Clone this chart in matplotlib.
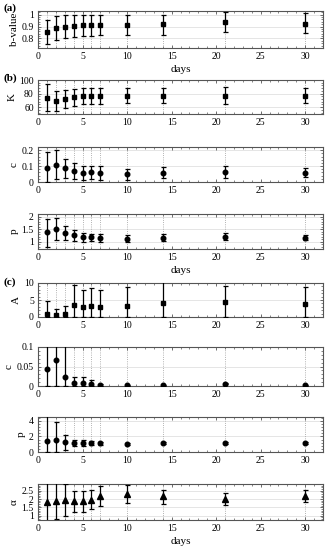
import matplotlib
matplotlib.use("Agg")
import matplotlib.pyplot as plt
import numpy as np
from matplotlib.ticker import MultipleLocator, AutoMinorLocator

plt.rcParams['font.family'] = ['Liberation Serif', 'DejaVu Serif']
plt.rcParams['font.size'] = 7

days = [1, 2, 3, 4, 5, 6, 7, 10, 14, 21, 30]

# (a) b-value
b_val = [0.853, 0.888, 0.900, 0.905, 0.910, 0.913, 0.913, 0.910, 0.917, 0.935, 0.925]
b_lo = [0.755, 0.790, 0.800, 0.810, 0.818, 0.818, 0.825, 0.825, 0.833, 0.850, 0.845]
b_hi = [0.952, 0.987, 0.995, 0.995, 0.997, 0.997, 1.000, 0.995, 1.000, 1.020, 1.010]

# (b) ETAS-like parameters
K_val = [73.8, 69.4, 72.3, 74.7, 76.6, 76.0, 76.6, 77.0, 77.0, 77.0, 77.0]
K_lo = [54.0, 55.0, 59.3, 61.7, 64.6, 64.0, 64.6, 66.0, 66.0, 65.0, 66.0]
K_hi = [93.7, 84.3, 85.8, 87.2, 88.0, 87.7, 88.0, 88.0, 88.0, 90.0, 88.0]

cb_val = [0.091, 0.110, 0.086, 0.072, 0.059, 0.061, 0.057, 0.051, 0.059, 0.065, 0.059]
cb_lo = [0.000, 0.021, 0.025, 0.021, 0.015, 0.019, 0.014, 0.015, 0.025, 0.027, 0.030]
cb_hi = [0.187, 0.204, 0.147, 0.122, 0.103, 0.103, 0.103, 0.083, 0.094, 0.098, 0.090]

pb_val = [1.37, 1.52, 1.36, 1.26, 1.18, 1.18, 1.16, 1.12, 1.16, 1.20, 1.16]
pb_lo = [0.77, 1.05, 1.07, 1.01, 0.99, 1.01, 0.99, 0.99, 1.03, 1.07, 1.06]
pb_hi = [1.92, 1.96, 1.62, 1.48, 1.34, 1.32, 1.32, 1.27, 1.32, 1.34, 1.27]

# (c)
A_val = [0.95, 0.45, 0.75, 3.5, 2.9, 3.3, 2.9, 3.3, 4.1, 4.4, 3.9]
A_lo = [0, 0, 0, 0, 0, 0, 0, 0, 0, 0, 0]
A_hi = [4.6, 2.5, 3.2, 9.3, 8.0, 8.6, 8.0, 8.7, 10.5, 9.1, 8.8]

cc_val = [0.0435, 0.066, 0.024, 0.007, 0.007, 0.0045, 0.002, 0.002, 0.002, 0.006, 0.002]
cc_lo = [0.0, 0.0, 0.0, 0.0, 0.0, 0.0, 0.0, 0.001, 0.001, 0.004, 0.001]
cc_hi = [0.15, 0.15, 0.15, 0.024, 0.024, 0.016, 0.004, 0.003, 0.003, 0.008, 0.003]

pc_val = [1.41, 1.50, 1.24, 1.20, 1.16, 1.15, 1.10, 1.08, 1.10, 1.15, 1.10]
pc_lo = [0.0, 0.0, 0.30, 0.80, 0.80, 0.90, 0.95, 0.95, 0.97, 1.00, 0.97]
pc_hi = [5.0, 3.80, 2.25, 1.60, 1.60, 1.40, 1.25, 1.20, 1.23, 1.30, 1.23]

al_val = [1.81, 1.87, 1.96, 1.87, 1.87, 1.96, 2.17, 2.28, 2.19, 2.02, 2.17]
al_lo = [0.40, 0.78, 1.00, 1.21, 1.25, 1.40, 1.56, 1.74, 1.68, 1.66, 1.81]
al_hi = [3.20, 3.20, 2.90, 2.48, 2.48, 2.52, 2.77, 2.82, 2.57, 2.39, 2.52]

W, H = 330, 550
fig = plt.figure(figsize=(W / 100, H / 100), dpi=100)

# panel specs: (top px, bottom px, values, lo, hi, marker, ylabel, ylim, yticks, ytick labels)
panels = [
    (11, 48, b_val, b_lo, b_hi, 's', 'b-value', (0.72, 1.03), [0.8, 0.9, 1.0], ['0.8', '0.9', '1']),
    (80, 114, K_val, K_lo, K_hi, 's', 'K', (50, 100), [60, 80, 100], ['60', '80', '100']),
    (147, 182, cb_val, cb_lo, cb_hi, 'o', 'c', (0, 0.22), [0, 0.1, 0.2], ['0', '0.1', '0.2']),
    (214, 249, pb_val, pb_lo, pb_hi, 'o', 'p', (0.7, 2.12), [1, 1.5, 2], ['1', '1.5', '2']),
    (283, 317, A_val, A_lo, A_hi, 's', 'A', (0, 10), [0, 5, 10], ['0', '5', '10']),
    (347, 386, cc_val, cc_lo, cc_hi, 'o', 'c', (0, 0.1), [0, 0.05, 0.1], ['0', '0.05', '0.1']),
    (417, 452, pc_val, pc_lo, pc_hi, 'o', 'p', (0, 4.5), [0, 2, 4], ['0', '2', '4']),
    (484, 520, al_val, al_lo, al_hi, '^', 'α', (0.75, 2.9), [1, 1.5, 2, 2.5], ['1', '1.5', '2', '2.5']),
]

left, right = 38, 323
edge = '#555555'
axes = []
for top, bot, val, lo, hi, mk, ylab, ylim, yt, ytl in panels:
    ax = fig.add_axes([left / W, 1 - bot / H, (right - left) / W, (bot - top) / H])
    val = np.array(val)
    yerr = [val - np.array(lo), np.array(hi) - val]
    for d in days:
        ax.axvline(d, color='#999999', lw=0.6, ls=':', zorder=1)
    for y in yt:
        ax.axhline(y, color='#e0e0e0', lw=0.6, zorder=0)
    ms = 3.3 if mk != '^' else 3.8
    ax.errorbar(days, val, yerr=yerr, fmt=mk, color='black', ms=ms, lw=0.9,
                capsize=1.8, capthick=0.9, zorder=3)
    ax.set_xlim(0, 32)
    ax.set_ylim(*ylim)
    ax.set_xticks(range(0, 31, 5))
    ax.xaxis.set_minor_locator(MultipleLocator(1))
    ax.set_yticks(yt)
    ax.set_yticklabels(ytl)
    ax.yaxis.set_minor_locator(AutoMinorLocator(5))
    ax.tick_params(which='both', direction='in', top=True, right=True, color=edge,
                   labelsize=7, pad=3)
    ax.tick_params(which='major', length=2.5, width=0.6)
    ax.tick_params(which='minor', length=1.5, width=0.5)
    for s in ax.spines.values():
        s.set_color(edge)
        s.set_linewidth(0.8)
    ax.set_ylabel(ylab, fontsize=8, labelpad=2)
    axes.append(ax)

for i in (0, 3, 7):
    axes[i].set_xlabel('days', fontsize=8, labelpad=3)

fig.text(4 / W, 1 - 8 / H, '(a)', fontsize=8, fontweight='bold', va='center')
fig.text(4 / W, 1 - 78 / H, '(b)', fontsize=8, fontweight='bold', va='center')
fig.text(4 / W, 1 - 282 / H, '(c)', fontsize=8, fontweight='bold', va='center')

fig.savefig('out.png', dpi=100)
